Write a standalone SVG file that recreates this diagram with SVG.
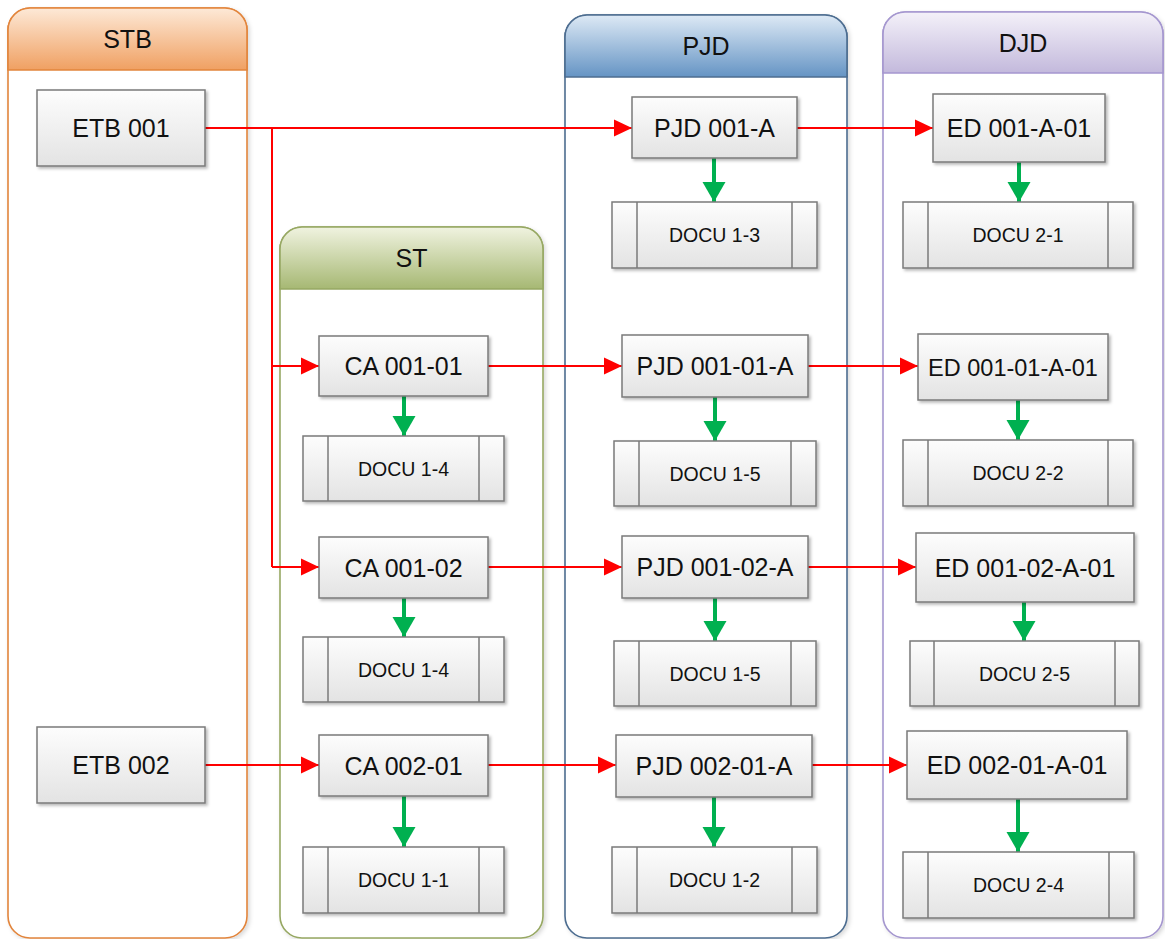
<svg xmlns="http://www.w3.org/2000/svg" width="1165" height="939" viewBox="0 0 1165 939">
<defs>
<linearGradient id="gSTB" x1="0" y1="0" x2="0" y2="1"><stop offset="0" stop-color="#fde9d7"/><stop offset="1" stop-color="#f0a062"/></linearGradient>
<linearGradient id="gST" x1="0" y1="0" x2="0" y2="1"><stop offset="0" stop-color="#f0f3e0"/><stop offset="1" stop-color="#a6b873"/></linearGradient>
<linearGradient id="gPJD" x1="0" y1="0" x2="0" y2="1"><stop offset="0" stop-color="#dde9f5"/><stop offset="1" stop-color="#6594c4"/></linearGradient>
<linearGradient id="gDJD" x1="0" y1="0" x2="0" y2="1"><stop offset="0" stop-color="#f4f1f9"/><stop offset="1" stop-color="#c3b9dc"/></linearGradient>
<linearGradient id="gNode" x1="0" y1="0" x2="0" y2="1"><stop offset="0" stop-color="#fdfdfd"/><stop offset="1" stop-color="#e3e3e3"/></linearGradient>
<filter id="sh" x="-10%" y="-10%" width="130%" height="130%"><feDropShadow dx="2" dy="2" stdDeviation="1.5" flood-color="#000" flood-opacity="0.28"/></filter>
<filter id="lsh" x="-5%" y="-5%" width="110%" height="110%"><feDropShadow dx="2" dy="2" stdDeviation="2" flood-color="#000" flood-opacity="0.15"/></filter>
<marker id="ar" markerUnits="userSpaceOnUse" markerWidth="20" markerHeight="20" viewBox="0 0 20 20" refX="18" refY="10" orient="auto"><path d="M0,1.5 L18,10 L0,18.5 z" fill="#ff0000"/></marker>
<marker id="ag" markerUnits="userSpaceOnUse" markerWidth="22" markerHeight="24" viewBox="0 0 22 24" refX="20" refY="12" orient="auto"><path d="M0,0.5 L20,12 L0,23.5 z" fill="#00b050"/></marker>
</defs>
<style>
.lane{fill:#ffffff;stroke-width:1.6}
.ttl{font-family:"Liberation Sans",Arial,sans-serif;font-size:25px;fill:#111111;text-anchor:middle}
.node rect,.node path{fill:url(#gNode);stroke:#7a7a7a;stroke-width:1.5}
.node rect{filter:url(#sh)}
.node line{stroke:#7a7a7a;stroke-width:1.5}
.lbl{font-family:"Liberation Sans",Arial,sans-serif;font-size:25px;fill:#111111;text-anchor:middle}
.sm{font-size:23.5px}
.dl{font-family:"Liberation Sans",Arial,sans-serif;font-size:19.5px;fill:#111111;text-anchor:middle}
.red{fill:none;stroke:#ff0000;stroke-width:2}
.grn{fill:none;stroke:#00b050;stroke-width:4}
</style>

<!-- Lanes -->
<g id="lane-STB">
<rect class="lane" x="8" y="8" width="239" height="930" rx="22" stroke="#e2853c" filter="url(#lsh)"/>
<path d="M8,70 V30 A22,22 0 0 1 30,8 H225 A22,22 0 0 1 247,30 V70 Z" fill="url(#gSTB)" stroke="#e2853c" stroke-width="1.6"/>
<text class="ttl" x="127.5" y="48">STB</text>
</g>
<g id="lane-ST">
<rect class="lane" x="280" y="227" width="263" height="711" rx="22" stroke="#97a863" filter="url(#lsh)"/>
<path d="M280,289 V249 A22,22 0 0 1 302,227 H521 A22,22 0 0 1 543,249 V289 Z" fill="url(#gST)" stroke="#97a863" stroke-width="1.6"/>
<text class="ttl" x="411.5" y="267">ST</text>
</g>
<g id="lane-PJD">
<rect class="lane" x="565" y="15" width="282" height="923" rx="22" stroke="#4d6d90" filter="url(#lsh)"/>
<path d="M565,77 V37 A22,22 0 0 1 587,15 H825 A22,22 0 0 1 847,37 V77 Z" fill="url(#gPJD)" stroke="#4d6d90" stroke-width="1.6"/>
<text class="ttl" x="706" y="55">PJD</text>
</g>
<g id="lane-DJD">
<rect class="lane" x="883" y="12" width="280" height="926" rx="22" stroke="#a597cf" filter="url(#lsh)"/>
<path d="M883,73 V34 A22,22 0 0 1 905,12 H1141 A22,22 0 0 1 1163,34 V73 Z" fill="url(#gDJD)" stroke="#a597cf" stroke-width="1.6"/>
<text class="ttl" x="1023" y="51.5">DJD</text>
</g>

<!-- Connectors -->
<g id="connectors">
<path class="red" d="M205,128 H632" marker-end="url(#ar)"/>
<path class="red" d="M272,128 V567"/>
<path class="red" d="M272,366 H319" marker-end="url(#ar)"/>
<path class="red" d="M272,567 H319" marker-end="url(#ar)"/>
<path class="red" d="M205,765 H319" marker-end="url(#ar)"/>
<path class="red" d="M797,128 H933" marker-end="url(#ar)"/>
<path class="red" d="M488,366 H622" marker-end="url(#ar)"/>
<path class="red" d="M808,366 H918" marker-end="url(#ar)"/>
<path class="red" d="M488,567 H622" marker-end="url(#ar)"/>
<path class="red" d="M808,567 H916" marker-end="url(#ar)"/>
<path class="red" d="M488,765 H616" marker-end="url(#ar)"/>
<path class="red" d="M812,765 H907" marker-end="url(#ar)"/>
<path class="grn" d="M714,158 V202" marker-end="url(#ag)"/>
<path class="grn" d="M1019,162 V202" marker-end="url(#ag)"/>
<path class="grn" d="M404,396 V436" marker-end="url(#ag)"/>
<path class="grn" d="M715,397 V441" marker-end="url(#ag)"/>
<path class="grn" d="M1018,400 V440" marker-end="url(#ag)"/>
<path class="grn" d="M404,598 V637" marker-end="url(#ag)"/>
<path class="grn" d="M715,598 V641" marker-end="url(#ag)"/>
<path class="grn" d="M1024,602 V641" marker-end="url(#ag)"/>
<path class="grn" d="M404,796 V847" marker-end="url(#ag)"/>
<path class="grn" d="M714,797 V847" marker-end="url(#ag)"/>
<path class="grn" d="M1018,799 V852" marker-end="url(#ag)"/>
</g>

<!-- Process nodes -->
<g id="etb001" class="node"><rect x="37" y="90" width="168" height="76"/><text class="lbl" x="121" y="137">ETB 001</text></g>
<g id="etb002" class="node"><rect x="37" y="727" width="168" height="76"/><text class="lbl" x="121" y="774">ETB 002</text></g>
<g id="pjd001a" class="node"><rect x="632" y="97" width="165" height="61"/><text class="lbl" x="714.5" y="136.5">PJD 001-A</text></g>
<g id="ed001a01" class="node"><rect x="933" y="94" width="172" height="68"/><text class="lbl" x="1019" y="137">ED 001-A-01</text></g>
<g id="ca00101" class="node"><rect x="319" y="336" width="169" height="60"/><text class="lbl" x="403.5" y="375">CA 001-01</text></g>
<g id="pjd00101a" class="node"><rect x="622" y="335" width="186" height="62"/><text class="lbl" x="715" y="375">PJD 001-01-A</text></g>
<g id="ed00101a01" class="node"><rect x="918" y="334" width="190" height="66"/><text class="lbl sm" x="1013" y="375.5">ED 001-01-A-01</text></g>
<g id="ca00102" class="node"><rect x="319" y="537" width="169" height="61"/><text class="lbl" x="403.5" y="576.5">CA 001-02</text></g>
<g id="pjd00102a" class="node"><rect x="622" y="536" width="186" height="62"/><text class="lbl" x="715" y="576">PJD 001-02-A</text></g>
<g id="ed00102a01" class="node"><rect x="916" y="533" width="218" height="69"/><text class="lbl" x="1025" y="576.5">ED 001-02-A-01</text></g>
<g id="ca00201" class="node"><rect x="319" y="735" width="169" height="61"/><text class="lbl" x="403.5" y="774.5">CA 002-01</text></g>
<g id="pjd00201a" class="node"><rect x="616" y="735" width="196" height="62"/><text class="lbl" x="714" y="775">PJD 002-01-A</text></g>
<g id="ed00201a01" class="node"><rect x="907" y="731" width="220" height="68"/><text class="lbl" x="1017" y="774">ED 002-01-A-01</text></g>

<!-- Document (predefined process) nodes -->
<g id="docu13" class="node"><rect x="612" y="202" width="205" height="66"/><line x1="637" y1="202" x2="637" y2="268"/><line x1="792" y1="202" x2="792" y2="268"/><text class="dl" x="714.5" y="242">DOCU 1-3</text></g>
<g id="docu21" class="node"><rect x="903" y="202" width="230" height="66"/><line x1="928" y1="202" x2="928" y2="268"/><line x1="1108" y1="202" x2="1108" y2="268"/><text class="dl" x="1018" y="242">DOCU 2-1</text></g>
<g id="docu14a" class="node"><rect x="303" y="436" width="201" height="65"/><line x1="328" y1="436" x2="328" y2="501"/><line x1="479" y1="436" x2="479" y2="501"/><text class="dl" x="403.5" y="475.5">DOCU 1-4</text></g>
<g id="docu15a" class="node"><rect x="614" y="441" width="202" height="65"/><line x1="639" y1="441" x2="639" y2="506"/><line x1="791" y1="441" x2="791" y2="506"/><text class="dl" x="715" y="480.5">DOCU 1-5</text></g>
<g id="docu22" class="node"><rect x="903" y="440" width="230" height="66"/><line x1="928" y1="440" x2="928" y2="506"/><line x1="1108" y1="440" x2="1108" y2="506"/><text class="dl" x="1018" y="480">DOCU 2-2</text></g>
<g id="docu14b" class="node"><rect x="303" y="637" width="201" height="65"/><line x1="328" y1="637" x2="328" y2="702"/><line x1="479" y1="637" x2="479" y2="702"/><text class="dl" x="403.5" y="676.5">DOCU 1-4</text></g>
<g id="docu15b" class="node"><rect x="614" y="641" width="202" height="65"/><line x1="639" y1="641" x2="639" y2="706"/><line x1="791" y1="641" x2="791" y2="706"/><text class="dl" x="715" y="680.5">DOCU 1-5</text></g>
<g id="docu25" class="node"><rect x="910" y="641" width="229" height="65"/><line x1="934" y1="641" x2="934" y2="706"/><line x1="1115" y1="641" x2="1115" y2="706"/><text class="dl" x="1024.5" y="680.5">DOCU 2-5</text></g>
<g id="docu11" class="node"><rect x="303" y="847" width="201" height="66"/><line x1="328" y1="847" x2="328" y2="913"/><line x1="479" y1="847" x2="479" y2="913"/><text class="dl" x="403.5" y="887">DOCU 1-1</text></g>
<g id="docu12" class="node"><rect x="612" y="847" width="205" height="66"/><line x1="637" y1="847" x2="637" y2="913"/><line x1="792" y1="847" x2="792" y2="913"/><text class="dl" x="714.5" y="887">DOCU 1-2</text></g>
<g id="docu24" class="node"><rect x="903" y="852" width="231" height="66"/><line x1="928" y1="852" x2="928" y2="918"/><line x1="1109" y1="852" x2="1109" y2="918"/><text class="dl" x="1018.5" y="892">DOCU 2-4</text></g>
</svg>
